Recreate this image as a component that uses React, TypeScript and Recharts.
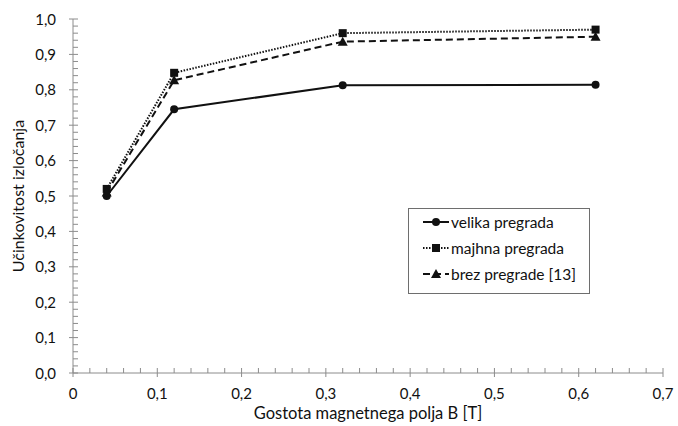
import { LineChart, Line, XAxis, YAxis, Legend } from 'recharts';

const fieldB = [0.04, 0.12, 0.32, 0.62];
const velikaPregrada = [0.5, 0.745, 0.813, 0.814];
const majhnaPregrada = [0.52, 0.848, 0.96, 0.97];
const brezPregrade = [0.51, 0.827, 0.936, 0.95];

const seriesNames = ['velika pregrada', 'majhna pregrada', 'brez pregrade [13]'];

const xMajorTicks = [0, 0.1, 0.2, 0.3, 0.4, 0.5, 0.6, 0.7];
const xTickLabels = ['0', '0,1', '0,2', '0,3', '0,4', '0,5', '0,6', '0,7'];
const yMajorTicks = [0, 0.1, 0.2, 0.3, 0.4, 0.5, 0.6, 0.7, 0.8, 0.9, 1.0];
const yTickLabels = ['0,0', '0,1', '0,2', '0,3', '0,4', '0,5', '0,6', '0,7', '0,8', '0,9', '1,0'];

const FONT = 'Lato, "Open Sans", sans-serif';
const AXIS = '#8c8c8c';
const INK = '#111';

// majors plus 4 minor steps between each pair
function withMinor(majors: number[]) {
  const out: number[] = [];
  majors.forEach((m, i) => {
    out.push(m);
    if (i < majors.length - 1) {
      const step = (majors[i + 1] - m) / 5;
      for (let k = 1; k < 5; k++) out.push(Math.round((m + step * k) * 1000) / 1000);
    }
  });
  return out;
}

const data = fieldB.map((b, i) => ({
  b,
  velika: velikaPregrada[i],
  majhna: majhnaPregrada[i],
  brez: brezPregrade[i],
}));

const majorIndex = (list: number[], v: number) => list.findIndex((t) => Math.abs(t - v) < 1e-6);

function XTick({ x, y, payload }: any) {
  const idx = majorIndex(xMajorTicks, payload.value);
  const major = idx >= 0;
  return (
    <g>
      <line x1={x} x2={x} y1={major ? y + 4 : y} y2={y - 5} stroke={AXIS} />
      {major && (
        <text x={x} y={y + 26} textAnchor="middle" fontSize={15} fontFamily={FONT} fill={INK}>
          {xTickLabels[idx]}
        </text>
      )}
    </g>
  );
}

function YTick({ x, y, payload }: any) {
  const idx = majorIndex(yMajorTicks, payload.value);
  const major = idx >= 0;
  return (
    <g>
      <line x1={major ? x - 4 : x} x2={x + 5} y1={y} y2={y} stroke={AXIS} />
      {major && (
        <text x={x - 17} y={y + 5.5} textAnchor="end" fontSize={15} fontFamily={FONT} fill={INK}>
          {yTickLabels[idx]}
        </text>
      )}
    </g>
  );
}

const Circle = ({ cx, cy }: any) => <circle cx={cx} cy={cy} r={4} fill={INK} />;
const Square = ({ cx, cy }: any) => <rect x={cx - 4} y={cy - 4} width={8} height={8} fill={INK} />;
const Triangle = ({ cx, cy }: any) => (
  <polygon points={`${cx},${cy - 5} ${cx + 5},${cy + 4} ${cx - 5},${cy + 4}`} fill={INK} />
);

const styles = [
  { dash: undefined, marker: Circle },
  { dash: '1.5 1.5', marker: Square },
  { dash: '7 4', marker: Triangle },
];

function LegendBox() {
  return (
    <div
      style={{
        border: '1px solid #6e6e6e',
        background: '#fff',
        width: 182,
        height: 86,
        boxSizing: 'border-box',
        fontFamily: FONT,
        fontSize: 15.5,
        color: INK,
      }}
    >
      {seriesNames.map((name, i) => {
        const M = styles[i].marker;
        return (
          <div key={name} style={{ height: 26, display: 'flex', alignItems: 'center' }}>
            <svg width={26} height={12} style={{ marginLeft: 14, marginRight: 2 }}>
              <line x1={0} x2={26} y1={6} y2={6} stroke={INK} strokeWidth={2} strokeDasharray={styles[i].dash} />
              <M cx={13} cy={6} />
            </svg>
            <span>{name}</span>
          </div>
        );
      })}
    </div>
  );
}

export default function App() {
  return (
    <div style={{ position: 'absolute', left: 0, top: 0, background: '#fff' }}>
      <LineChart width={678} height={426} data={data} margin={{ top: 19, right: 15, bottom: 0, left: 0 }}>
        <XAxis
          dataKey="b"
          type="number"
          domain={[0, 0.7]}
          ticks={withMinor(xMajorTicks)}
          interval={0}
          tick={<XTick />}
          tickLine={false}
          tickSize={0}
          tickMargin={0}
          axisLine={{ stroke: AXIS }}
          height={53}
          label={{
            value: 'Gostota magnetnega polja B [T]',
            position: 'insideBottom',
            offset: 7,
            style: { fontFamily: FONT, fontSize: 16.5, fill: INK },
          }}
        />
        <YAxis
          type="number"
          domain={[0, 1]}
          ticks={withMinor(yMajorTicks)}
          interval={0}
          tick={<YTick />}
          tickLine={false}
          tickSize={0}
          tickMargin={0}
          axisLine={{ stroke: AXIS }}
          width={73}
          label={{
            value: 'Učinkovitost izločanja',
            angle: -90,
            position: 'insideLeft',
            offset: 18,
            style: { textAnchor: 'middle', fontFamily: FONT, fontSize: 16, fill: INK },
          }}
        />
        <Legend
          layout="vertical"
          align="center"
          verticalAlign="middle"
          content={<LegendBox />}
          wrapperStyle={{ left: 408, top: 208, width: 182 }}
        />
        {(['velika', 'majhna', 'brez'] as const).map((key, i) => {
          const M = styles[i].marker;
          return (
            <Line
              key={key}
              dataKey={key}
              name={seriesNames[i]}
              stroke={INK}
              strokeWidth={2}
              strokeDasharray={styles[i].dash}
              dot={(p: any) => <M key={`${key}-${p.index}`} cx={p.cx} cy={p.cy} />}
              activeDot={false}
              isAnimationActive={false}
            />
          );
        })}
      </LineChart>
    </div>
  );
}
